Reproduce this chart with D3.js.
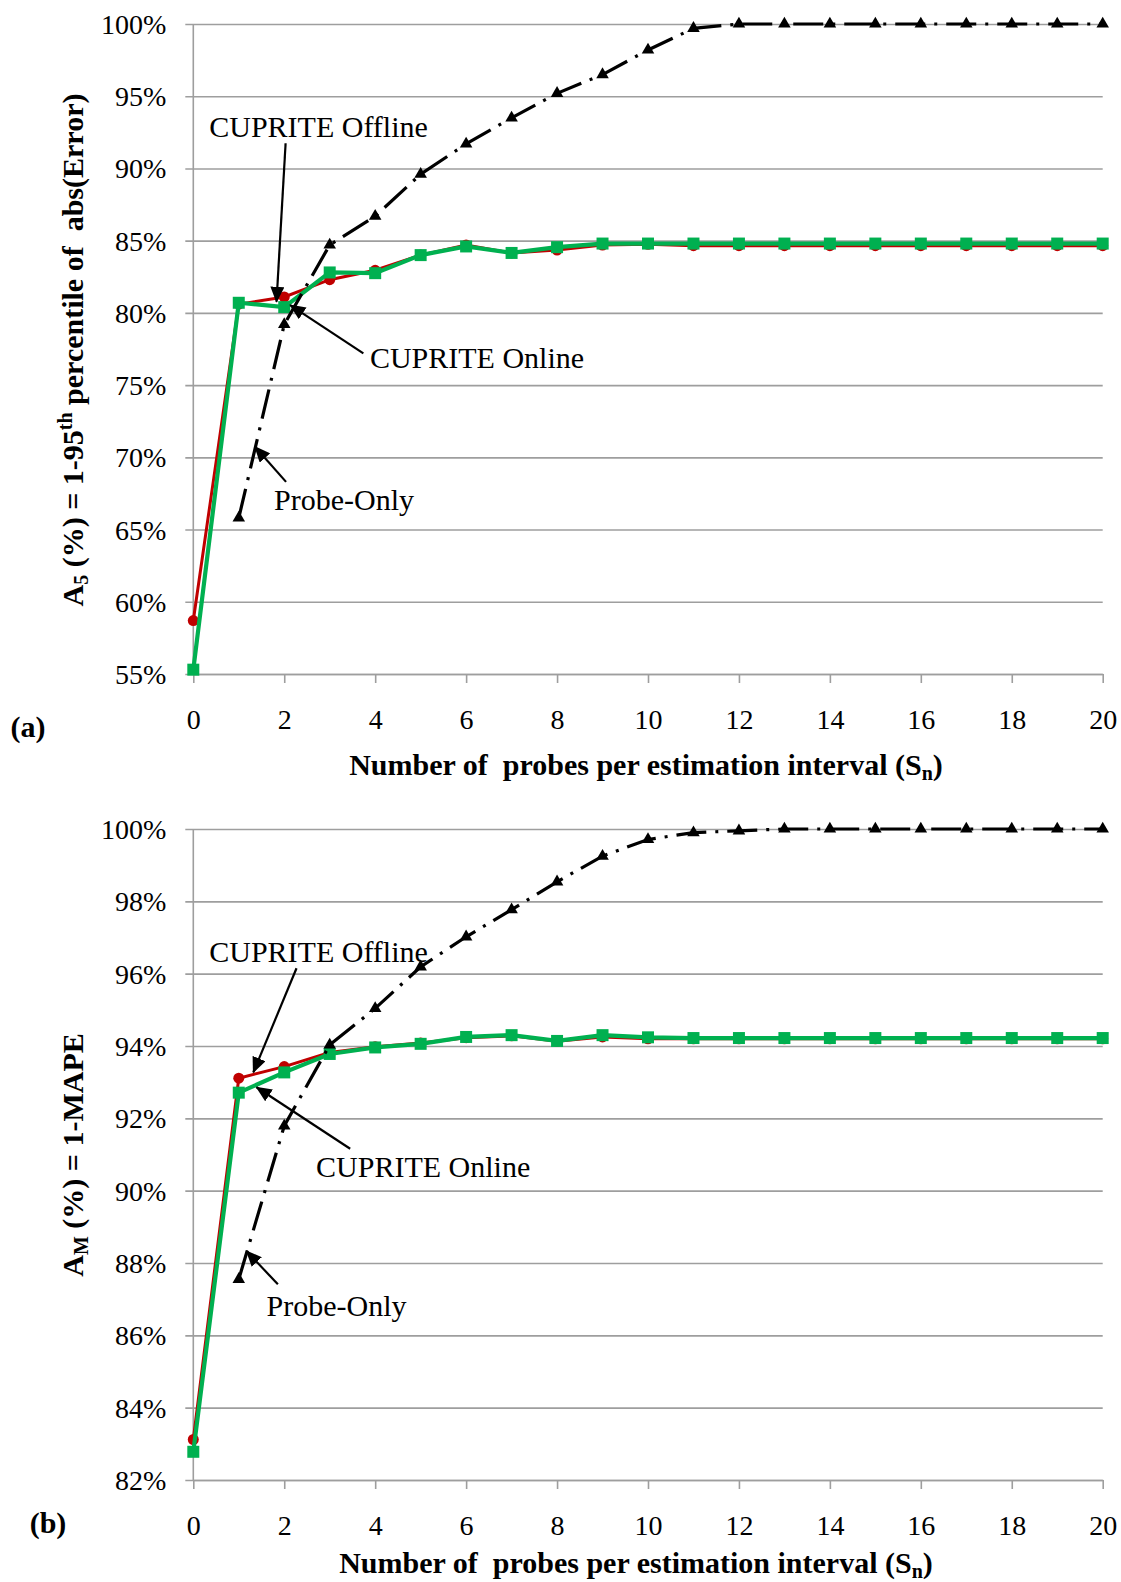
<!DOCTYPE html>
<html><head><meta charset="utf-8">
<script src="https://cdn.jsdelivr.net/npm/d3@7"></script>
<style>
body{margin:0;background:#fff;}
svg{display:block;}
text{font-family:"Liberation Serif","Times New Roman",serif;fill:#000;white-space:pre;}
</style></head>
<body>
<svg id="chart" width="1121" height="1582"></svg>
<script>
// ---------------- DATA ----------------
const probes = [0,1,2,3,4,5,6,7,8,9,10,11,12,13,14,15,16,17,18,19,20];
const xTicks = [0,2,4,6,8,10,12,14,16,18,20];

// (a) A5 = 1 - 95th percentile of abs(Error)
const aTicks = [55,60,65,70,75,80,85,90,95,100];
const aOffline = [58.7,80.6,81.1,82.3,82.95,84.0,84.7,84.15,84.35,84.7,84.75,84.65,84.65,84.65,84.65,84.65,84.65,84.65,84.65,84.65,84.65];
const aOnline  = [55.3,80.7,80.4,82.8,82.75,84.0,84.6,84.15,84.55,84.8,84.8,84.8,84.8,84.8,84.8,84.8,84.8,84.8,84.8,84.8,84.8];
const aProbe   = [null,65.8,79.2,84.7,86.7,89.6,91.7,93.5,95.2,96.5,98.2,99.7,100,100,100,100,100,100,100,100,100];

// (b) AM = 1 - MAPE
const bTicks = [82,84,86,88,90,92,94,96,98,100];
const bOffline = [83.12,93.11,93.43,93.82,93.98,94.08,94.23,94.28,94.13,94.25,94.2,94.2,94.2,94.2,94.2,94.2,94.2,94.2,94.2,94.2,94.2];
const bOnline  = [82.78,92.71,93.27,93.78,93.96,94.06,94.25,94.3,94.14,94.3,94.24,94.22,94.22,94.22,94.22,94.22,94.22,94.22,94.22,94.22,94.22];
const bProbe   = [null,87.55,91.79,94.03,95.04,96.19,97.02,97.77,98.54,99.25,99.71,99.9,99.95,100,100,100,100,100,100,100,100];

// annotations (data units): label, text x/y, arrow from, arrow tip
const aNotes = [
  {label:"CUPRITE Offline", tx:0.35, ty:92.2, x1:2.03, y1:91.74, x2:1.83, y2:80.77},
  {label:"CUPRITE Online",  tx:3.885,ty:76.16,x1:3.74, y1:77.2,  x2:2.13, y2:80.54},
  {label:"Probe-Only",      tx:1.775,ty:66.34,x1:2.04, y1:68.3,  x2:1.357,y2:70.73}
];
const bNotes = [
  {label:"CUPRITE Offline", tx:0.35, ty:96.33,x1:2.27, y1:96.15, x2:1.32, y2:93.27},
  {label:"CUPRITE Online",  tx:2.70, ty:90.39,x1:3.45, y1:91.16, x2:1.39, y2:92.86},
  {label:"Probe-Only",      tx:1.61, ty:86.54,x1:1.86, y1:87.41, x2:1.17, y2:88.33}
];

// ---------------- DRAW ----------------
const svg = d3.select("#chart");
const defs = svg.append("defs");
defs.append("marker").attr("id","arrow")
  .attr("markerUnits","userSpaceOnUse")
  .attr("viewBox","0 0 16 14").attr("refX",15).attr("refY",7)
  .attr("markerWidth",16).attr("markerHeight",14).attr("orient","auto")
  .append("path").attr("d","M0,0 L16,7 L0,14 Z").attr("fill","#000");

const LEFT = 193.3, RIGHT = 1102.7;
const GRID = "#9e9e9e";

function drawChart(cfg){
  const x = d3.scaleLinear().domain([0,20]).range([LEFT,RIGHT]);
  const y = d3.scaleLinear().domain([cfg.ticks[0], 100]).range([cfg.bottom, cfg.top]);
  const g = svg.append("g");

  // y gridlines + ticks
  const ya = d3.axisLeft(y).tickValues(cfg.ticks).tickSize(8).tickPadding(19)
      .tickFormat(d => d + "%");
  const yg = g.append("g").attr("transform",`translate(${LEFT},0)`).call(ya);
  yg.select(".domain").remove();
  yg.selectAll(".tick line").attr("x1", RIGHT-LEFT).attr("x2",-8)
    .attr("stroke",GRID).attr("stroke-width",1.6);
  yg.selectAll(".tick text").attr("font-size",28).attr("dy",null).attr("y",9.5)
    .attr("font-family","Liberation Serif, serif").attr("fill","#000");

  // x axis
  const xa = d3.axisBottom(x).tickValues(xTicks).tickSize(9).tickSizeOuter(0).tickPadding(0)
      .tickFormat(d3.format("d"));
  const xg = g.append("g").attr("transform",`translate(0,${cfg.bottom})`).call(xa);
  xg.select(".domain").attr("stroke",GRID).attr("stroke-width",1.6);
  xg.selectAll(".tick line").attr("stroke",GRID).attr("stroke-width",1.6);
  xg.selectAll(".tick text").attr("font-size",28).attr("dy",null).attr("y",55)
    .attr("font-family","Liberation Serif, serif").attr("fill","#000");

  // left axis line
  g.append("line").attr("x1",LEFT).attr("x2",LEFT).attr("y1",cfg.top).attr("y2",cfg.bottom)
    .attr("stroke",GRID).attr("stroke-width",1.6);

  const line = d3.line().defined(d => d[1] != null).x(d => x(d[0])).y(d => y(d[1]));
  const pts = arr => probes.map((p,i)=>[p,arr[i]]).filter(d=>d[1]!=null);

  // Offline (red, circles)
  g.append("path").attr("d", line(pts(cfg.offline))).attr("fill","none")
    .attr("stroke","#c00000").attr("stroke-width",3);
  g.selectAll(".c").data(pts(cfg.offline)).join("path")
    .attr("d", d3.symbol(d3.symbolCircle, 95)())
    .attr("transform", d=>`translate(${x(d[0])},${y(d[1])})`).attr("fill","#c00000");

  // Online (green, squares)
  g.append("path").attr("d", line(pts(cfg.online))).attr("fill","none")
    .attr("stroke","#00b050").attr("stroke-width",4.2);
  g.selectAll(".s").data(pts(cfg.online)).join("path")
    .attr("d", d3.symbol(d3.symbolSquare, 144)())
    .attr("transform", d=>`translate(${x(d[0])},${y(d[1])})`).attr("fill","#00b050");

  // Probe-Only (black, dash-dot, triangles)
  g.append("path").attr("d", line(pts(cfg.probe))).attr("fill","none")
    .attr("stroke","#000").attr("stroke-width",3.2).attr("stroke-dasharray","30,9,3,9");
  g.selectAll(".t").data(pts(cfg.probe)).join("path")
    .attr("d", d3.symbol(d3.symbolTriangle, 68)())
    .attr("transform", d=>`translate(${x(d[0])},${y(d[1])})`).attr("fill","#000");

  // annotations
  cfg.notes.forEach(n=>{
    g.append("line").attr("x1",x(n.x1)).attr("y1",y(n.y1)).attr("x2",x(n.x2)).attr("y2",y(n.y2))
      .attr("stroke","#000").attr("stroke-width",2.2).attr("marker-end","url(#arrow)");
    g.append("text").attr("x",x(n.tx)).attr("y",y(n.ty)).attr("font-size",30).text(n.label);
  });

  // x title
  const xt = g.append("text").attr("x",cfg.xTitleX).attr("y",cfg.xTitleY)
    .attr("text-anchor","middle").attr("font-size",30).attr("font-weight","bold");
  xt.append("tspan").text("Number of  probes per estimation interval (S");
  xt.append("tspan").attr("baseline-shift","-25%").attr("font-size",20).text("n");
  xt.append("tspan").text(")");

  // y title
  const yt = g.append("text").attr("transform",`translate(83,${cfg.yTitleY}) rotate(-90)`)
    .attr("text-anchor","middle").attr("font-size",30).attr("font-weight","bold");
  cfg.yTitle(yt);

  // panel label
  g.append("text").attr("x",cfg.panelX).attr("y",cfg.panelY).attr("text-anchor","middle")
    .attr("font-size",30).attr("font-weight","bold").text(cfg.panel);
}

drawChart({
  top:24, bottom:674, ticks:aTicks, offline:aOffline, online:aOnline, probe:aProbe, notes:aNotes,
  xTitleX:646, xTitleY:775, yTitleY:350, panel:"(a)", panelX:28, panelY:737,
  yTitle: t => {
    t.append("tspan").text("A");
    t.append("tspan").attr("baseline-shift","-25%").attr("font-size",20).text("5");
    t.append("tspan").text(" (%) = 1-95");
    t.append("tspan").attr("baseline-shift","super").attr("font-size",20).text("th");
    t.append("tspan").text(" percentile of  abs(Error)");
  }
});
drawChart({
  top:829, bottom:1480, ticks:bTicks, offline:bOffline, online:bOnline, probe:bProbe, notes:bNotes,
  xTitleX:636, xTitleY:1573, yTitleY:1155, panel:"(b)", panelX:48, panelY:1533,
  yTitle: t => {
    t.append("tspan").text("A");
    t.append("tspan").attr("baseline-shift","-25%").attr("font-size",20).text("M");
    t.append("tspan").text(" (%) = 1-MAPE");
  }
});
</script>
</body></html>
